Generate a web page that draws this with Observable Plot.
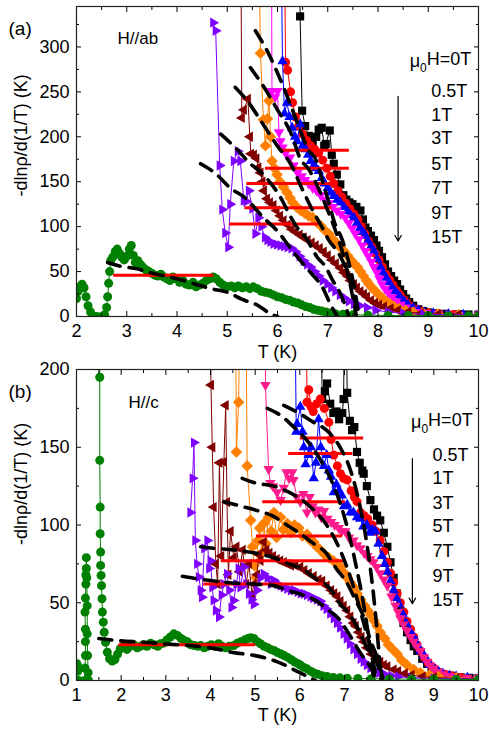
<!DOCTYPE html>
<html><head><meta charset="utf-8">
<script src="https://cdn.jsdelivr.net/npm/d3@7"></script>
<script src="https://cdn.jsdelivr.net/npm/@observablehq/plot@0.6"></script>
<style>
body{margin:0;background:#fff;}
#wrap{position:relative;width:489px;height:737px;overflow:hidden;background:#fff;}
#pa{position:absolute;left:0;top:0;}
#pb{position:absolute;left:0;top:360px;}
</style></head><body><div id="wrap"><div id="pa"></div><div id="pb"></div></div>
<script>
// ---------- shared labels ----------
const fieldLabels = ["μ0H=0T","0.5T","1T","3T","5T","7T","9T","15T"];
const yLabel = "-dlnρ/d(1/T) (K)";
const xLabel = "T (K)";
const colorsA = ["#000000","#ff0000","#0000ff","#ff00ff","#ff8000","#800000","#8000ff","#008000"];
const colorsB = ["#000000","#ff0000","#0000ff","#ff1a8c","#ff8000","#800000","#8000ff","#008000"];

// ---------- panel (a): H//ab ----------
const a0T = [[6.44,420],[6.45,334],[6.49,229],[6.55,212],[6.62,201],[6.7,192],[6.77,200],[6.82,208],[6.88,210],[6.93,190],[6.96,192],[7.04,207],[7.08,180],[7.12,170],[7.18,158],[7.25,147],[7.31,135],[7.37,130],[7.43,127],[7.49,125],[7.57,122],[7.65,118],[7.7,108],[7.75,99],[7.8,95],[7.86,90],[7.92,85],[7.97,79],[8.02,73],[8.08,66],[8.14,58],[8.2,50],[8.26,45],[8.32,40],[8.38,36],[8.44,30],[8.5,25],[8.56,20],[8.62,16],[8.7,12],[8.8,8],[8.9,6],[9.0,4.5],[9.15,3.5],[9.35,3],[9.6,2.5],[9.8,2.2],[10,2]];
const a05T = [[6.14,420],[6.16,283],[6.2,274],[6.26,250],[6.3,238],[6.36,222],[6.42,212],[6.5,203],[6.58,196],[6.66,190],[6.74,186],[6.82,182],[6.9,174],[6.98,165],[7.05,156],[7.12,148],[7.2,140],[7.28,133],[7.36,126],[7.44,120],[7.52,114],[7.6,108],[7.67,100],[7.74,92],[7.81,84],[7.88,77],[7.95,70],[8.02,63],[8.09,55],[8.16,47],[8.23,41],[8.3,35],[8.37,29],[8.44,24],[8.51,19],[8.58,15],[8.66,11],[8.75,8],[8.86,5.5],[9.0,4],[9.2,3],[9.5,2.2],[10,1.8]];
const a1T = [[6.07,420],[6.1,284],[6.14,226],[6.19,238],[6.24,222],[6.29,210],[6.35,200],[6.39,195],[6.45,214],[6.5,190],[6.56,186],[6.61,180],[6.66,173],[6.72,168],[6.77,165],[6.82,162],[6.88,154],[6.94,148],[7.0,143],[7.06,138],[7.12,134],[7.19,130],[7.25,127],[7.32,122],[7.39,117],[7.45,113],[7.52,110],[7.58,104],[7.64,98],[7.7,94],[7.75,90],[7.8,84],[7.86,78],[7.92,73],[7.98,64],[8.05,55],[8.1,49],[8.16,43],[8.22,38],[8.28,32],[8.34,28],[8.4,24],[8.45,21],[8.52,17],[8.6,13],[8.7,9.5],[8.8,7],[8.92,5],[9.1,3.5],[9.4,2.5],[9.7,2],[10,1.8]];
const a3T = [[5.88,420],[5.89,251],[5.95,244],[6.0,251],[6.03,205],[6.06,195],[6.1,188],[6.16,182],[6.25,177],[6.32,168],[6.4,160],[6.48,156],[6.55,152],[6.62,148],[6.7,143],[6.78,140],[6.86,135],[6.94,130],[7.02,126],[7.1,122],[7.18,118],[7.26,114],[7.35,110],[7.42,104],[7.49,98],[7.55,92],[7.62,86],[7.69,79],[7.75,73],[7.81,67],[7.87,61],[7.92,55],[7.98,49],[8.03,42],[8.08,36],[8.14,31],[8.2,27],[8.28,21.5],[8.36,17],[8.45,13],[8.55,10],[8.66,7],[8.8,5],[8.95,4],[9.2,3],[9.6,2],[10,1.5]];
const a5T = [[5.63,420],[5.66,293],[5.72,219],[5.76,190],[5.8,220],[5.83,240],[5.86,200],[5.89,173],[5.94,165],[5.99,158],[6.05,150],[6.12,144],[6.19,138],[6.25,132],[6.3,127],[6.38,122],[6.46,118],[6.54,115],[6.62,112],[6.7,110],[6.78,105],[6.86,101],[6.94,96],[7.02,92],[7.1,86],[7.17,82],[7.25,77],[7.32,73],[7.39,68],[7.46,63],[7.52,59],[7.59,55],[7.65,50],[7.71,45],[7.77,40],[7.82,36],[7.88,32],[7.95,28],[8.02,24],[8.08,21],[8.16,17],[8.24,14],[8.32,11],[8.42,8.5],[8.55,6.5],[8.7,5],[8.9,3.5],[9.2,2.5],[9.6,2],[10,1.5]];
const a7T = [[5.27,420],[5.29,221],[5.33,230],[5.41,242],[5.45,200],[5.47,181],[5.53,180],[5.58,176],[5.62,166],[5.66,160],[5.7,150],[5.73,140],[5.79,131],[5.85,127],[5.92,124],[5.98,118],[6.05,112],[6.12,107],[6.2,102],[6.28,97],[6.36,94],[6.44,91],[6.52,88],[6.6,85],[6.68,82],[6.76,79],[6.84,76],[6.92,72],[7.0,68],[7.08,63],[7.16,59],[7.25,54],[7.32,49],[7.39,45],[7.45,40],[7.52,36],[7.58,32],[7.65,28],[7.72,25],[7.78,22],[7.86,18],[7.94,15],[8.02,13],[8.12,11],[8.25,9],[8.4,7],[8.6,5],[8.85,3.5],[9.2,2.5],[9.6,2],[10,1.5]];
const a9T = [[4.72,327],[4.77,318],[4.85,168],[4.9,119],[4.96,93],[5.02,77],[5.06,125],[5.13,173],[5.21,184],[5.26,173],[5.33,129],[5.38,128],[5.43,140],[5.5,120],[5.56,92],[5.62,110],[5.68,100],[5.75,88],[5.8,85],[5.86,83],[5.92,81],[5.99,80],[6.06,79],[6.13,78],[6.2,77],[6.28,76],[6.36,72],[6.44,67],[6.52,62],[6.59,58],[6.66,55],[6.74,50],[6.82,45],[6.9,40],[6.99,36],[7.07,32],[7.15,28],[7.24,24],[7.32,21],[7.42,17],[7.52,14],[7.64,12],[7.78,10],[7.95,7],[8.2,5],[8.5,3.5],[8.9,2.5],[9.4,2],[10,1.5]];
const a15T = [[2.0,20],[2.03,28],[2.07,33],[2.11,36],[2.15,32],[2.19,22],[2.23,12],[2.28,5],[2.32,0.5],[2.4,0],[2.5,0],[2.56,2],[2.6,10],[2.62,22],[2.64,37],[2.66,50],[2.68,62],[2.72,66],[2.77,72],[2.81,75],[2.86,70],[2.9,66],[2.95,63],[3.0,67],[3.05,75],[3.09,79],[3.13,68],[3.17,60],[3.22,62],[3.27,58],[3.32,55],[3.38,52],[3.44,50],[3.5,48],[3.56,46],[3.62,45],[3.68,47],[3.74,44],[3.8,42],[3.86,40],[3.92,44],[3.98,42],[4.05,38],[4.12,40],[4.18,36],[4.25,35],[4.32,38],[4.38,33],[4.45,35],[4.52,37],[4.58,40],[4.65,42],[4.72,44],[4.78,42],[4.85,38],[4.92,35],[5.0,33],[5.08,34],[5.15,32],[5.22,34],[5.3,32],[5.38,33],[5.45,31],[5.52,33],[5.6,31],[5.68,28],[5.76,27],[5.84,26],[5.92,24],[6.0,22],[6.08,21],[6.16,19],[6.24,18],[6.32,16],[6.4,15],[6.48,13],[6.56,11],[6.64,10],[6.72,8],[6.8,7],[6.88,6],[6.96,5],[7.05,4],[7.15,3],[7.3,2.5],[7.5,2],[7.8,1.5],[8.2,1.2],[8.6,1],[9.0,1],[9.4,0.8],[9.8,0.8],[10,0.8]];

const aDash1 = [[5.56,318],[5.8,295],[6.1,258],[6.4,215],[6.62,185],[6.76,175],[6.9,150],[7.05,121],[7.12,107],[7.29,85],[7.42,60],[7.52,35],[7.58,15],[7.62,0]];
const aDash2 = [[5.46,277],[5.7,258],[6.0,230],[6.26,205],[6.46,175],[6.62,164],[6.82,142],[7.0,118],[7.2,88],[7.35,60],[7.45,35],[7.52,15],[7.57,0]];
const aDash3 = [[5.16,255],[5.4,240],[5.7,215],[6.02,188],[6.26,170],[6.49,142],[6.7,118],[6.89,99],[7.02,85],[7.22,70],[7.35,55],[7.45,38],[7.52,22],[7.6,0]];
const aDash4 = [[4.87,203],[5.16,188],[5.46,170],[5.7,159],[6.0,138],[6.39,99],[6.56,88],[6.79,66],[6.96,55],[7.1,40],[7.22,29],[7.35,12],[7.42,0]];
const aDash5 = [[4.47,170],[4.77,159],[5.06,143],[5.36,132],[5.72,110],[6.0,95],[6.26,76],[6.46,62],[6.69,47],[6.89,33],[7.05,14],[7.19,0]];
const aDash6 = [[2.62,60],[2.87,56],[3.21,53],[3.44,49],[3.77,45],[4.0,42],[4.37,36],[4.67,31],[5.0,27],[5.3,19],[5.62,12],[5.86,3],[6.0,0]];

const aRedFrom = [6.09,5.76,5.39,5.35,5.05,2.74];
const aRedTo   = [7.43,7.43,7.18,7.08,6.82,4.73];
const aRedAt   = [185,165,148,121,103,46];

const aLegendT = [8.63,9.06,9.06,9.06,9.06,9.06,9.06,9.06];
const aLegendV = [284,251,224,198,170,143,115,88];
const aArrow = {T: 8.4, from: 245, to: 84};

// ---------- panel (b): H//c ----------
const b0T = [[6.45,300],[6.5,181],[6.56,186],[6.61,191],[6.68,178],[6.75,172],[6.82,173],[6.88,168],[6.95,172],[6.98,181],[7.02,300],[7.06,185],[7.12,167],[7.17,161],[7.22,163],[7.28,147],[7.34,140],[7.4,135],[7.43,133],[7.5,125],[7.58,116],[7.66,110],[7.73,106],[7.8,103],[7.88,95],[7.96,86],[8.03,76],[8.1,66],[8.17,56],[8.25,45],[8.32,37],[8.4,31],[8.48,26],[8.55,22],[8.63,19],[8.74,14],[8.85,10.7],[8.95,7.5],[9.1,5],[9.25,3.5],[9.4,3],[9.6,2],[9.8,1.7],[10,1.5]];
const b05T = [[6.13,300],[6.16,179],[6.2,187],[6.25,176],[6.3,173],[6.38,178],[6.46,181],[6.55,175],[6.65,166],[6.7,155],[6.76,145],[6.84,138],[6.91,133],[6.98,130],[7.06,129],[7.15,122],[7.22,118],[7.28,115],[7.36,108],[7.44,106],[7.52,104],[7.62,100],[7.7,96],[7.8,90],[7.88,83],[7.96,76],[8.03,69],[8.1,63],[8.18,56],[8.25,50],[8.33,44],[8.4,38],[8.48,33],[8.55,28],[8.62,23],[8.7,19],[8.78,15],[8.88,11],[9.0,8],[9.1,5.5],[9.25,4],[9.4,3],[9.6,2],[10,1.3]];
const b1T = [[5.87,300],[5.92,160],[5.94,165],[6.01,176],[6.06,160],[6.09,150],[6.13,139],[6.2,145],[6.25,150],[6.31,130],[6.36,140],[6.42,168],[6.47,150],[6.54,138],[6.6,145],[6.65,135],[6.7,131],[6.76,121],[6.82,126],[6.88,122],[6.94,119],[6.99,112],[7.06,113],[7.13,108],[7.2,108],[7.28,105],[7.35,104],[7.42,99],[7.5,100],[7.56,95],[7.62,97],[7.69,96],[7.76,88],[7.84,80],[7.9,75],[7.96,70],[8.03,64],[8.1,58],[8.16,53],[8.22,49],[8.3,43],[8.38,37],[8.46,32],[8.55,28],[8.63,23],[8.7,19],[8.78,16],[8.85,13],[8.92,10],[9.0,8],[9.1,6],[9.2,4.5],[9.35,3.2],[9.5,2.5],[9.75,1.8],[10,1.5]];
const b3T = [[5.23,300],[5.23,190],[5.3,136],[5.34,127],[5.4,125],[5.49,121],[5.57,116],[5.64,124],[5.7,134],[5.76,130],[5.83,134],[5.86,129],[5.93,118],[6.01,115],[6.08,120],[6.16,108],[6.22,118],[6.29,112],[6.35,108],[6.42,110],[6.48,105],[6.54,109],[6.62,104],[6.7,102],[6.78,100],[6.87,98],[6.94,96],[7.02,96],[7.1,92],[7.2,90],[7.28,87],[7.36,85],[7.44,82],[7.51,80],[7.58,78],[7.65,76],[7.72,73],[7.8,69],[7.88,65],[7.96,61],[8.05,54],[8.14,48],[8.2,44],[8.25,40],[8.32,36],[8.4,32],[8.48,28],[8.55,25],[8.62,22],[8.7,19],[8.78,15],[8.85,12],[8.92,9.5],[9.0,7.5],[9.1,5.5],[9.2,4],[9.35,3],[9.5,2.5],[9.75,1.8],[10,1.3]];
const b5T = [[4.55,300],[4.58,147],[4.63,179],[4.68,300],[4.78,300],[4.82,138],[4.9,103],[4.94,86],[4.98,74],[5.02,66],[5.06,90],[5.1,98],[5.15,82],[5.19,101],[5.24,88],[5.3,105],[5.36,96],[5.42,108],[5.48,92],[5.57,105],[5.63,97],[5.72,101],[5.8,95],[5.88,100],[5.98,98],[6.06,93],[6.16,94],[6.24,90],[6.31,89],[6.38,86],[6.46,84],[6.55,81],[6.65,79],[6.75,77],[6.84,75],[6.92,73],[7.0,69],[7.06,66],[7.13,63],[7.21,60],[7.28,56],[7.36,52],[7.45,48],[7.52,45],[7.59,42],[7.66,38.6],[7.73,35],[7.8,31],[7.9,27],[7.98,23],[8.08,20],[8.18,17],[8.28,13],[8.4,10],[8.55,7],[8.7,5],[8.9,3.5],[9.1,2.5],[9.5,1.7],[10,1.3]];
const b7T = [[4.0,300],[4.01,190],[4.04,150],[4.07,111.5],[4.12,75],[4.16,62],[4.2,140],[4.24,80],[4.3,140.5],[4.34,177],[4.37,114.7],[4.4,68],[4.45,96],[4.52,79],[4.58,86],[4.65,70],[4.72,84],[4.8,62],[4.86,75],[4.93,55],[4.97,62],[5.04,68],[5.08,81],[5.12,77],[5.19,89],[5.25,84],[5.32,82],[5.4,80],[5.48,78],[5.56,77],[5.64,76],[5.72,75],[5.8,74],[5.9,74],[6.01,73],[6.1,71],[6.2,69],[6.31,67],[6.42,65],[6.5,64],[6.6,61],[6.7,58],[6.77,56],[6.84,54],[6.91,51],[6.98,48],[7.06,45],[7.13,41],[7.2,37],[7.25,35],[7.32,31],[7.38,28],[7.43,25],[7.5,21],[7.6,17],[7.7,14],[7.8,12],[7.88,10],[7.96,9],[8.1,7],[8.2,6],[8.35,4.5],[8.5,3.5],[8.75,2.5],[9.0,2],[9.5,1.3],[10,1]];
const b9T = [[3.55,108],[3.6,130],[3.63,153],[3.66,90],[3.7,75],[3.74,66.5],[3.78,58],[3.81,53.6],[3.86,85],[3.93,90],[3.97,72],[4.0,77],[4.04,60],[4.07,51.5],[4.12,45],[4.19,40.8],[4.25,55],[4.3,62],[4.37,68.6],[4.42,58],[4.47,47],[4.52,51.5],[4.58,62],[4.63,72],[4.67,60],[4.75,73],[4.8,62],[4.86,55.8],[4.92,52],[4.97,49],[5.04,58],[5.12,66],[5.19,68.6],[5.28,66],[5.35,62],[5.42,64.4],[5.5,62],[5.57,61],[5.64,60],[5.72,59],[5.8,58],[5.87,58],[5.95,57],[6.02,56],[6.09,55.8],[6.16,55],[6.24,54],[6.3,53],[6.38,52],[6.46,51],[6.53,48],[6.6,46],[6.68,43],[6.76,40],[6.83,37],[6.9,34],[6.98,30],[7.05,27],[7.12,23.5],[7.2,20],[7.28,17],[7.36,14],[7.43,12],[7.5,10],[7.58,8],[7.66,6.4],[7.78,5],[7.9,4],[8.05,3],[8.2,2.5],[8.5,1.7],[9.0,1.2],[9.5,1],[10,0.8]];
const b15T = [[1.0,11],[1.02,10],[1.03,6],[1.05,0],[1.18,0],[1.19,8],[1.2,16],[1.2,25],[1.2,33],[1.19,44],[1.2,53],[1.21,62],[1.21,68],[1.22,72],[1.22,79],[1.23,66],[1.24,48],[1.24,30],[1.25,16],[1.26,5],[1.27,0],[1.4,NaN],[1.5,400],[1.52,195],[1.52,141.6],[1.53,111.5],[1.53,94.4],[1.54,82.6],[1.54,74],[1.55,67.6],[1.56,61],[1.57,52.6],[1.58,44],[1.6,37.5],[1.62,31],[1.65,24.6],[1.69,18.2],[1.74,14],[1.8,12.5],[1.86,13.5],[1.92,17],[1.98,20.4],[2.05,22],[2.13,20],[2.2,22],[2.28,23],[2.36,21],[2.43,22],[2.5,23],[2.58,22],[2.66,24],[2.74,23],[2.82,22],[2.88,23.6],[2.95,24],[3.02,26],[3.1,28],[3.18,30],[3.26,29],[3.34,27],[3.41,25.7],[3.48,25],[3.56,23],[3.64,22.5],[3.72,22],[3.78,22.5],[3.86,21],[3.94,22],[4.02,23],[4.1,22],[4.18,23.6],[4.26,22],[4.34,21],[4.42,22],[4.52,22.5],[4.6,24],[4.68,25],[4.76,26],[4.84,27],[4.9,27.5],[4.97,27],[5.05,25],[5.12,23.6],[5.2,22],[5.28,21],[5.35,20],[5.42,19.3],[5.5,18],[5.58,17],[5.65,16],[5.72,15],[5.8,13.5],[5.88,12],[5.95,11],[6.01,10],[6.08,8.5],[6.16,7.5],[6.24,6],[6.31,5],[6.4,4],[6.5,3],[6.61,2.6],[6.75,2],[6.9,1.7],[7.06,1.5],[7.3,1.3],[7.6,1.2],[8.0,1],[8.5,0.9],[9.0,0.8],[9.5,0.7],[10,0.6]];

const bDash1 = [[5.64,177],[5.94,172.6],[6.31,166],[6.61,160.7],[6.9,150],[7.1,138],[7.3,118],[7.5,88],[7.65,55],[7.75,25],[7.82,0]];
const bDash2 = [[5.27,175],[5.57,170.5],[5.9,162],[6.2,153],[6.5,140],[6.76,125],[7.0,105],[7.25,75],[7.45,45],[7.6,15],[7.66,0]];
const bDash3 = [[4.71,130],[5.01,127],[5.42,125],[5.72,121.6],[6.0,117],[6.3,110],[6.6,100],[6.9,84],[7.15,65],[7.4,40],[7.6,18],[7.72,0]];
const bDash4 = [[4.3,115],[4.7,112],[5.08,109],[5.38,106],[5.71,100],[5.98,95],[6.31,88],[6.57,82.6],[6.84,71],[7.02,64.4],[7.25,51.5],[7.43,40.7],[7.58,25.7],[7.73,15],[7.87,0]];
const bDash5 = [[3.78,86],[4.07,85],[4.5,84],[5.08,81.5],[5.38,79.3],[5.75,75],[6.05,72],[6.35,65.5],[6.65,60],[6.91,49],[7.1,43],[7.36,30],[7.5,21],[7.73,11],[7.84,0]];
const bDash6 = [[3.37,67],[3.7,65.4],[4.07,64],[4.37,63],[5.0,62],[5.42,61],[5.72,58],[6.09,54.7],[6.35,51.5],[6.65,45],[6.84,40.7],[7.1,30],[7.35,18],[7.58,8.6],[7.73,0]];
const bDash7 = [[1.5,27],[2.0,25.5],[2.5,24.6],[3.0,23.5],[3.5,22.5],[4.0,21],[4.5,18],[5.0,16],[5.5,12],[6.0,5],[6.35,0]];

const bRedFrom = [6.01,5.75,5.17,5.03,4.24,3.85,1.95];
const bRedTo   = [7.43,7.19,7.02,6.95,7.02,6.65,5.01];
const bRedAt   = [156,146,115,93,77,62,23];

const bLegendT = [8.49,8.97,8.97,8.97,8.97,8.97,8.97,8.97];
const bLegendV = [166,145,130,114,99,83.3,67.2,51.5];
const bArrow = {T: 8.52, from: 142.7, to: 49.4};

// ---------- axes ticks ----------
const xTicksA = [2,3,4,5,6,7,8,9,10];
const xMinorA = [2.5,3.5,4.5,5.5,6.5,7.5,8.5,9.5];
const yTicksA = [0,50,100,150,200,250,300];
const yMinorA = [25,75,125,175,225,275,325];
const xTicksB = [1,2,3,4,5,6,7,8,9,10];
const xMinorB = [1.5,2.5,3.5,4.5,5.5,6.5,7.5,8.5,9.5];
const yTicksB = [0,50,100,150,200];
const yMinorB = [25,75,125,175];

// ---------- symbols ----------
function poly(angle, n) {
  return {draw(c, s) {
    const r = Math.sqrt(s / Math.PI);
    for (let k = 0; k < n; k++) {
      const a = (angle + 360 / n * k) * Math.PI / 180;
      const x = r * Math.cos(a), y = r * Math.sin(a);
      if (k) c.lineTo(x, y); else c.moveTo(x, y);
    }
    c.closePath();
  }};
}
const circleSym = {draw(c, s){ const r = Math.sqrt(s/Math.PI); c.moveTo(r,0); c.arc(0,0,r,0,2*Math.PI); c.closePath(); }};
const SYM = [
  {draw(c, s){ const h = Math.sqrt(s/Math.PI)*0.85; c.rect(-h,-h,2*h,2*h); }},
  circleSym, poly(-90,3), poly(90,3), poly(0,4), poly(180,3), poly(0,3), circleSym
];
const SYMR = [4.8,4.5,6.0,6.0,5.8,6.0,6.0,4.5];

const FONT = "'Liberation Sans', Arial, Helvetica, sans-serif";
const toRows = pts => pts.map(([T, v]) => ({T, v}));

function makePanel(cfg) {
  const marks = [];
  cfg.series.forEach((pts, i) => {
    const rows = toRows(pts);
    marks.push(Plot.line(rows, {x: "T", y: "v", stroke: cfg.colors[i], strokeWidth: 1, clip: true}));
    marks.push(Plot.dot(rows, {x: "T", y: "v", fill: cfg.colors[i], stroke: "none", symbol: SYM[i], r: SYMR[i], clip: true}));
  });
  const reds = cfg.redAt.map((v, i) => ({v, a: cfg.redFrom[i], b: cfg.redTo[i]}));
  marks.push(Plot.ruleY(reds, {y: "v", x1: "a", x2: "b", stroke: "#ff0000", strokeWidth: 3}));
  cfg.dashes.forEach(d => marks.push(Plot.line(toRows(d), {x: "T", y: "v", stroke: "#000", strokeWidth: 3.6, strokeDasharray: "13,9", curve: "monotone-x", clip: true})));
  const leg = fieldLabels.map((t, i) => ({t, T: cfg.legT[i], v: cfg.legV[i]}));
  marks.push(Plot.text(leg, {x: "T", y: "v", text: "t", textAnchor: "start", fontSize: 18, fill: "#000"}));
  marks.push(Plot.arrow([cfg.arrow], {x1: "T", x2: "T", y1: "from", y2: "to", stroke: "#000", strokeWidth: 1.2, headLength: 8}));
  marks.push(Plot.axisX(cfg.xTicks, {anchor: "bottom", tickSize: 0, tickPadding: 8, fontSize: 18, tickFormat: d => String(d)}));
  marks.push(Plot.axisY(cfg.yTicks, {anchor: "left", tickSize: 0, tickPadding: 7, fontSize: 18, tickFormat: d => String(d)}));
  for (const anc of ["bottom", "top"]) {
    marks.push(Plot.axisX(cfg.xTicks, {anchor: anc, tickSize: -5, tickFormat: () => ""}));
    marks.push(Plot.axisX(cfg.xMinor, {anchor: anc, tickSize: -3, tickFormat: () => ""}));
  }
  for (const anc of ["left", "right"]) {
    marks.push(Plot.axisY(cfg.yTicks, {anchor: anc, tickSize: -5, tickFormat: () => ""}));
    marks.push(Plot.axisY(cfg.yMinor, {anchor: anc, tickSize: -3, tickFormat: () => ""}));
  }
  marks.push(Plot.frame({stroke: "#222", strokeWidth: 1.2}));
  marks.push(Plot.text([cfg.tag], {text: d => d, frameAnchor: "top-left", dx: -68, dy: 15, textAnchor: "start", fontSize: 19}));
  marks.push(Plot.text([cfg.title], {text: d => d, frameAnchor: "top-left", dx: cfg.titleDx, dy: cfg.titleDy, textAnchor: "start", fontSize: 17}));
  marks.push(Plot.text([yLabel], {text: d => d, frameAnchor: "left", rotate: -90, dx: -55, dy: cfg.yLabelDy, fontSize: 18}));
  marks.push(Plot.text([xLabel], {text: d => d, frameAnchor: "bottom", dy: cfg.xLabelDy, fontSize: 18}));

  const svg = Plot.plot({
    width: 489, height: cfg.height,
    marginLeft: 76, marginRight: 11, marginTop: cfg.mt, marginBottom: cfg.mb,
    style: {fontFamily: FONT, fontSize: "18px", background: "transparent", color: "#000", overflow: "visible"},
    x: {domain: cfg.xDomain, label: null},
    y: {domain: cfg.yDomain, label: null},
    marks
  });
  const sel = d3.select(svg);
  sel.selectAll('g[aria-label$="tick label"]').attr("font-size", 18).style("font-size", "18px");
  sel.selectAll("text").filter(function(){ return this.textContent === "μ0H=0T"; }).each(function(){
    const t = d3.select(this); t.text(null);
    t.append("tspan").text("μ");
    t.append("tspan").attr("font-size", "12px").attr("dy", "0.4em").text("0");
    t.append("tspan").attr("dy", "-0.4em").text("H=0T");
  });
  return svg;
}

document.getElementById("pa").appendChild(makePanel({
  series: [a0T, a05T, a1T, a3T, a5T, a7T, a9T, a15T], colors: colorsA,
  dashes: [aDash1, aDash2, aDash3, aDash4, aDash5, aDash6],
  redFrom: aRedFrom, redTo: aRedTo, redAt: aRedAt,
  legT: aLegendT, legV: aLegendV, arrow: aArrow,
  xTicks: xTicksA, xMinor: xMinorA, yTicks: yTicksA, yMinor: yMinorA,
  xDomain: [2, 10], yDomain: [0, 345],
  height: 370, mt: 6, mb: 54,
  tag: "(a)", title: "H//ab", titleDx: 41, titleDy: 25, yLabelDy: 35, xLabelDy: 41
}));
document.getElementById("pb").appendChild(makePanel({
  series: [b0T, b05T, b1T, b3T, b5T, b7T, b9T, b15T], colors: colorsB,
  dashes: [bDash1, bDash2, bDash3, bDash4, bDash5, bDash6, bDash7],
  redFrom: bRedFrom, redTo: bRedTo, redAt: bRedAt,
  legT: bLegendT, legV: bLegendV, arrow: bArrow,
  xTicks: xTicksB, xMinor: xMinorB, yTicks: yTicksB, yMinor: yMinorB,
  xDomain: [1, 10], yDomain: [0, 200],
  height: 377, mt: 9, mb: 57,
  tag: "(b)", title: "H//c", titleDx: 52, titleDy: 26, yLabelDy: 20, xLabelDy: 40
}));
</script></body></html>
